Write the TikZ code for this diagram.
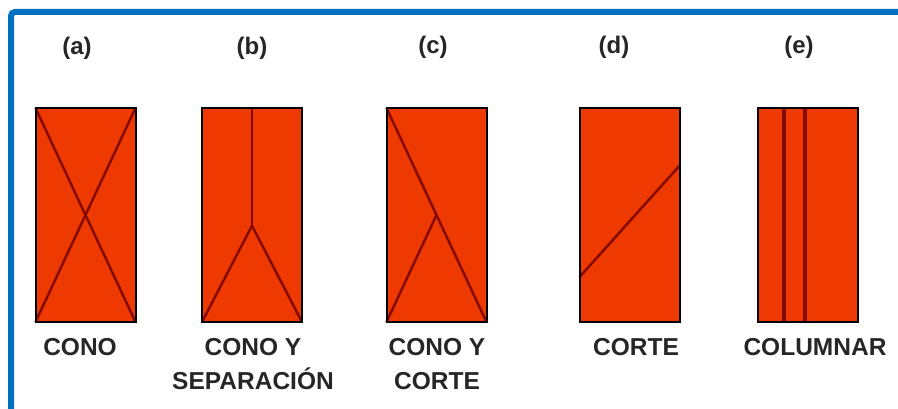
\documentclass[tikz,border=0pt]{standalone}
\usepackage{fontspec}
\setmainfont{Liberation Sans}
\usetikzlibrary{calc}
\definecolor{frameblue}{RGB}{0,112,192}
\definecolor{boxfill}{RGB}{238,58,0}
\definecolor{seam}{RGB}{135,10,0}
\begin{document}
\begin{tikzpicture}[x=1pt,y=-1pt,
  ingot/.style={draw=black,line width=2pt,fill=boxfill,minimum width=100pt,minimum height=214pt,inner sep=0pt,outer sep=0pt},
  seamline/.style={draw=seam,line width=2.5pt},
  colline/.style={draw=seam,line width=4pt},
  tagtxt/.style={font=\bfseries\fontsize{24}{26}\selectfont,text=black!85,inner sep=0pt},
  captxt/.style={font=\bfseries\fontsize{24.5}{34}\selectfont,text=black!85,inner sep=0pt,align=center}]
\useasboundingbox (0,0) rectangle (898,409);
\fill[white] (0,0) rectangle (898,409);
% blue frame
\draw[frameblue,line width=6pt,rounded corners=4pt] (11,420) -- (11,12) -- (905,12);
% boxes
\node[ingot] (a) at (85.5,215) {};
\node[ingot] (b) at (252,215) {};
\node[ingot] (c) at (436.5,215) {};
\node[ingot] (d) at (629.5,215) {};
\node[ingot] (e) at (808,215) {};
% (a) cone
\draw[seamline] (a.north west) -- (a.south east);
\draw[seamline] (a.north east) -- (a.south west);
% (b) cone with separation
\coordinate (bj) at ($(b.north)!0.55!(b.south)$);
\draw[seamline] (b.north) -- (bj);
\draw[seamline] (b.south west) -- (bj) -- (b.south east);
% (c) cone with cut
\coordinate (cj) at ($(c.north west)!0.5!(c.south east)$);
\draw[seamline] (c.north west) -- (c.south east);
\draw[seamline] (c.south west) -- (cj);
% (d) cut
\draw[seamline] ($(d.north west)!0.79!(d.south west)$) -- ($(d.north east)!0.27!(d.south east)$);
% (e) columnar
\draw[colline] ($(e.north west)!0.255!(e.north east)$) -- ($(e.south west)!0.255!(e.south east)$);
\draw[colline] ($(e.north west)!0.47!(e.north east)$) -- ($(e.south west)!0.47!(e.south east)$);
% redraw borders on top
\foreach \n in {a,b,c,d,e} \draw[black,line width=2pt] (\n.north west) rectangle (\n.south east);
% tags
\node[tagtxt] (ta) at (77,48) {(a)};
\node[tagtxt] (tb) at (252,48) {(b)};
\node[tagtxt] (tc) at (433,47) {(c)};
\node[tagtxt] (td) at (614,47) {(d)};
\node[tagtxt] (te) at (799,47) {(e)};
% captions
\node[captxt,anchor=north] (ca) at (80,338) {CONO};
\node[captxt,anchor=north] (cb) at (253,338) {CONO Y\\SEPARACIÓN};
\node[captxt,anchor=north] (cc) at (437,338) {CONO Y\\CORTE};
\node[captxt,anchor=north] (cd) at (636,338) {CORTE};
\node[captxt,anchor=north] (ce) at (815,338) {COLUMNAR};
\end{tikzpicture}
\end{document}
